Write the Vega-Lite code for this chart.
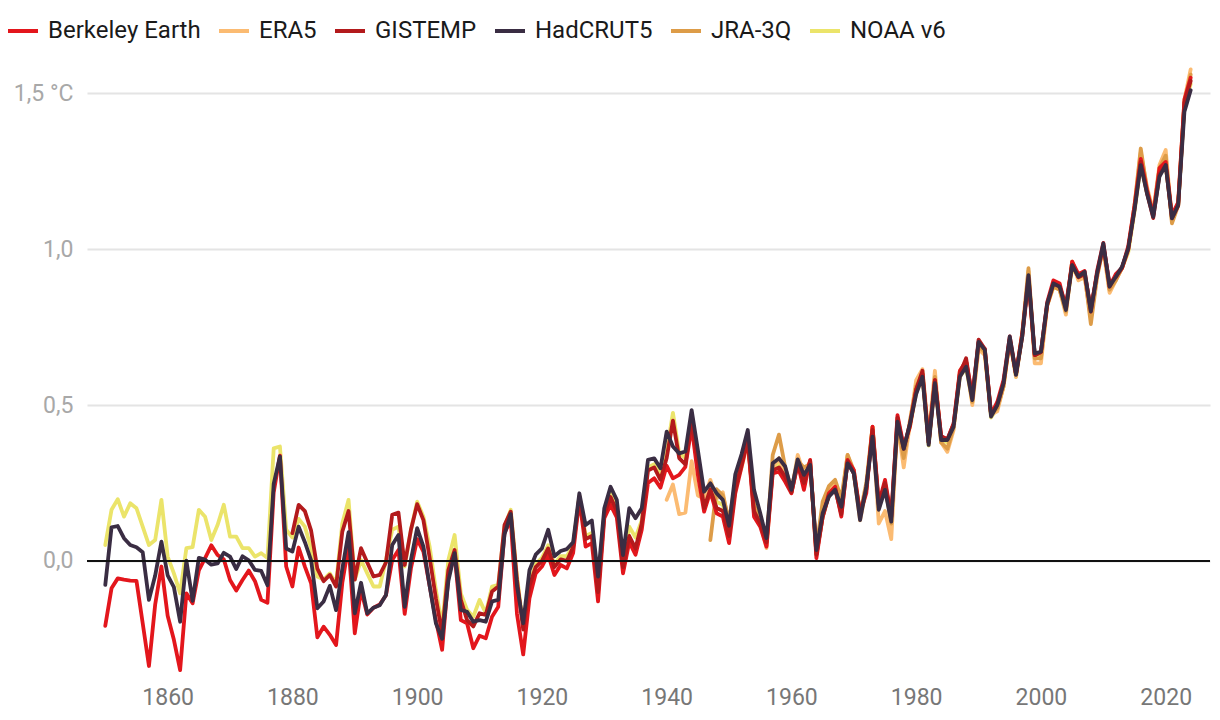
{
"$schema": "https://vega.github.io/schema/vega-lite/v6.json",
"width": 1123, "height": 620,
"autosize": {"type": "none"},
"padding": {"left": 87, "top": 60, "right": 10, "bottom": 40},
"background": "white",
"config": {"view": {"stroke": null}, "font": "Roboto"},
"data": {"values": [
{"dataset":"NOAA v6","year":1850,"value":0.051},{"dataset":"NOAA v6","year":1851,"value":0.164},{"dataset":"NOAA v6","year":1852,"value":0.198},{"dataset":"NOAA v6","year":1853,"value":0.142},{"dataset":"NOAA v6","year":1854,"value":0.185},{"dataset":"NOAA v6","year":1855,"value":0.169},{"dataset":"NOAA v6","year":1856,"value":0.110},{"dataset":"NOAA v6","year":1857,"value":0.051},{"dataset":"NOAA v6","year":1858,"value":0.067},{"dataset":"NOAA v6","year":1859,"value":0.196},
{"dataset":"NOAA v6","year":1860,"value":0.014},{"dataset":"NOAA v6","year":1861,"value":-0.040},{"dataset":"NOAA v6","year":1862,"value":-0.104},{"dataset":"NOAA v6","year":1863,"value":0.041},{"dataset":"NOAA v6","year":1864,"value":0.044},{"dataset":"NOAA v6","year":1865,"value":0.164},{"dataset":"NOAA v6","year":1866,"value":0.142},{"dataset":"NOAA v6","year":1867,"value":0.067},{"dataset":"NOAA v6","year":1868,"value":0.115},{"dataset":"NOAA v6","year":1869,"value":0.180},
{"dataset":"NOAA v6","year":1870,"value":0.078},{"dataset":"NOAA v6","year":1871,"value":0.078},{"dataset":"NOAA v6","year":1872,"value":0.041},{"dataset":"NOAA v6","year":1873,"value":0.041},{"dataset":"NOAA v6","year":1874,"value":0.014},{"dataset":"NOAA v6","year":1875,"value":0.025},{"dataset":"NOAA v6","year":1876,"value":0.009},{"dataset":"NOAA v6","year":1877,"value":0.361},{"dataset":"NOAA v6","year":1878,"value":0.367},{"dataset":"NOAA v6","year":1879,"value":0.100},
{"dataset":"NOAA v6","year":1880,"value":0.075},{"dataset":"NOAA v6","year":1881,"value":0.135},{"dataset":"NOAA v6","year":1882,"value":0.110},{"dataset":"NOAA v6","year":1883,"value":0.040},{"dataset":"NOAA v6","year":1884,"value":-0.050},{"dataset":"NOAA v6","year":1885,"value":-0.060},{"dataset":"NOAA v6","year":1886,"value":-0.040},{"dataset":"NOAA v6","year":1887,"value":-0.072},{"dataset":"NOAA v6","year":1888,"value":0.120},{"dataset":"NOAA v6","year":1889,"value":0.196},
{"dataset":"NOAA v6","year":1890,"value":-0.060},{"dataset":"NOAA v6","year":1891,"value":0.003},{"dataset":"NOAA v6","year":1892,"value":-0.040},{"dataset":"NOAA v6","year":1893,"value":-0.082},{"dataset":"NOAA v6","year":1894,"value":-0.082},{"dataset":"NOAA v6","year":1895,"value":0.003},{"dataset":"NOAA v6","year":1896,"value":0.100},{"dataset":"NOAA v6","year":1897,"value":0.110},{"dataset":"NOAA v6","year":1898,"value":-0.018},{"dataset":"NOAA v6","year":1899,"value":0.100},
{"dataset":"NOAA v6","year":1900,"value":0.190},{"dataset":"NOAA v6","year":1901,"value":0.142},{"dataset":"NOAA v6","year":1902,"value":0.046},{"dataset":"NOAA v6","year":1903,"value":-0.093},{"dataset":"NOAA v6","year":1904,"value":-0.210},{"dataset":"NOAA v6","year":1905,"value":0.003},{"dataset":"NOAA v6","year":1906,"value":0.083},{"dataset":"NOAA v6","year":1907,"value":-0.104},{"dataset":"NOAA v6","year":1908,"value":-0.157},{"dataset":"NOAA v6","year":1909,"value":-0.179},
{"dataset":"NOAA v6","year":1910,"value":-0.125},{"dataset":"NOAA v6","year":1911,"value":-0.168},{"dataset":"NOAA v6","year":1912,"value":-0.082},{"dataset":"NOAA v6","year":1913,"value":-0.077},{"dataset":"NOAA v6","year":1914,"value":0.110},{"dataset":"NOAA v6","year":1915,"value":0.164},{"dataset":"NOAA v6","year":1916,"value":-0.050},{"dataset":"NOAA v6","year":1917,"value":-0.210},{"dataset":"NOAA v6","year":1918,"value":-0.070},{"dataset":"NOAA v6","year":1919,"value":-0.010},
{"dataset":"NOAA v6","year":1920,"value":0.010},{"dataset":"NOAA v6","year":1921,"value":0.050},{"dataset":"NOAA v6","year":1922,"value":-0.010},{"dataset":"NOAA v6","year":1923,"value":0.015},{"dataset":"NOAA v6","year":1924,"value":0.015},{"dataset":"NOAA v6","year":1925,"value":0.050},{"dataset":"NOAA v6","year":1926,"value":0.210},{"dataset":"NOAA v6","year":1927,"value":0.080},{"dataset":"NOAA v6","year":1928,"value":0.090},{"dataset":"NOAA v6","year":1929,"value":-0.080},
{"dataset":"NOAA v6","year":1930,"value":0.155},{"dataset":"NOAA v6","year":1931,"value":0.215},{"dataset":"NOAA v6","year":1932,"value":0.175},{"dataset":"NOAA v6","year":1933,"value":-0.005},{"dataset":"NOAA v6","year":1934,"value":0.110},{"dataset":"NOAA v6","year":1935,"value":0.075},{"dataset":"NOAA v6","year":1936,"value":0.130},{"dataset":"NOAA v6","year":1937,"value":0.300},{"dataset":"NOAA v6","year":1938,"value":0.310},{"dataset":"NOAA v6","year":1939,"value":0.280},
{"dataset":"NOAA v6","year":1940,"value":0.350},{"dataset":"NOAA v6","year":1941,"value":0.475},{"dataset":"NOAA v6","year":1942,"value":0.345},{"dataset":"NOAA v6","year":1943,"value":0.330},{"dataset":"NOAA v6","year":1944,"value":0.470},{"dataset":"NOAA v6","year":1945,"value":0.340},{"dataset":"NOAA v6","year":1946,"value":0.180},{"dataset":"NOAA v6","year":1947,"value":0.240},{"dataset":"NOAA v6","year":1948,"value":0.190},{"dataset":"NOAA v6","year":1949,"value":0.180},
{"dataset":"NOAA v6","year":1950,"value":0.090},{"dataset":"NOAA v6","year":1951,"value":0.250},{"dataset":"NOAA v6","year":1952,"value":0.320},{"dataset":"NOAA v6","year":1953,"value":0.400},{"dataset":"NOAA v6","year":1954,"value":0.180},{"dataset":"NOAA v6","year":1955,"value":0.130},{"dataset":"NOAA v6","year":1956,"value":0.060},{"dataset":"NOAA v6","year":1957,"value":0.300},{"dataset":"NOAA v6","year":1958,"value":0.310},{"dataset":"NOAA v6","year":1959,"value":0.280},
{"dataset":"NOAA v6","year":1960,"value":0.220},{"dataset":"NOAA v6","year":1961,"value":0.320},{"dataset":"NOAA v6","year":1962,"value":0.260},{"dataset":"NOAA v6","year":1963,"value":0.310},{"dataset":"NOAA v6","year":1964,"value":0.020},{"dataset":"NOAA v6","year":1965,"value":0.140},{"dataset":"NOAA v6","year":1966,"value":0.210},{"dataset":"NOAA v6","year":1967,"value":0.230},{"dataset":"NOAA v6","year":1968,"value":0.160},{"dataset":"NOAA v6","year":1969,"value":0.330},
{"dataset":"NOAA v6","year":1970,"value":0.280},{"dataset":"NOAA v6","year":1971,"value":0.140},{"dataset":"NOAA v6","year":1972,"value":0.230},{"dataset":"NOAA v6","year":1973,"value":0.430},{"dataset":"NOAA v6","year":1974,"value":0.170},{"dataset":"NOAA v6","year":1975,"value":0.240},{"dataset":"NOAA v6","year":1976,"value":0.130},{"dataset":"NOAA v6","year":1977,"value":0.450},{"dataset":"NOAA v6","year":1978,"value":0.360},{"dataset":"NOAA v6","year":1979,"value":0.430},
{"dataset":"NOAA v6","year":1980,"value":0.540},{"dataset":"NOAA v6","year":1981,"value":0.590},{"dataset":"NOAA v6","year":1982,"value":0.370},{"dataset":"NOAA v6","year":1983,"value":0.570},{"dataset":"NOAA v6","year":1984,"value":0.390},{"dataset":"NOAA v6","year":1985,"value":0.380},{"dataset":"NOAA v6","year":1986,"value":0.430},{"dataset":"NOAA v6","year":1987,"value":0.590},{"dataset":"NOAA v6","year":1988,"value":0.620},{"dataset":"NOAA v6","year":1989,"value":0.510},
{"dataset":"NOAA v6","year":1990,"value":0.700},{"dataset":"NOAA v6","year":1991,"value":0.670},{"dataset":"NOAA v6","year":1992,"value":0.460},{"dataset":"NOAA v6","year":1993,"value":0.490},{"dataset":"NOAA v6","year":1994,"value":0.560},{"dataset":"NOAA v6","year":1995,"value":0.710},{"dataset":"NOAA v6","year":1996,"value":0.590},{"dataset":"NOAA v6","year":1997,"value":0.730},{"dataset":"NOAA v6","year":1998,"value":0.910},{"dataset":"NOAA v6","year":1999,"value":0.660},
{"dataset":"NOAA v6","year":2000,"value":0.660},{"dataset":"NOAA v6","year":2001,"value":0.820},{"dataset":"NOAA v6","year":2002,"value":0.880},{"dataset":"NOAA v6","year":2003,"value":0.870},{"dataset":"NOAA v6","year":2004,"value":0.810},{"dataset":"NOAA v6","year":2005,"value":0.940},{"dataset":"NOAA v6","year":2006,"value":0.910},{"dataset":"NOAA v6","year":2007,"value":0.920},{"dataset":"NOAA v6","year":2008,"value":0.800},{"dataset":"NOAA v6","year":2009,"value":0.920},
{"dataset":"NOAA v6","year":2010,"value":1.010},{"dataset":"NOAA v6","year":2011,"value":0.870},{"dataset":"NOAA v6","year":2012,"value":0.910},{"dataset":"NOAA v6","year":2013,"value":0.940},{"dataset":"NOAA v6","year":2014,"value":0.990},{"dataset":"NOAA v6","year":2015,"value":1.120},{"dataset":"NOAA v6","year":2016,"value":1.270},{"dataset":"NOAA v6","year":2017,"value":1.180},{"dataset":"NOAA v6","year":2018,"value":1.110},{"dataset":"NOAA v6","year":2019,"value":1.240},
{"dataset":"NOAA v6","year":2020,"value":1.270},{"dataset":"NOAA v6","year":2021,"value":1.100},{"dataset":"NOAA v6","year":2022,"value":1.140},{"dataset":"NOAA v6","year":2023,"value":1.460},{"dataset":"NOAA v6","year":2024,"value":1.530},
{"dataset":"ERA5","year":1940,"value":0.196},{"dataset":"ERA5","year":1941,"value":0.245},{"dataset":"ERA5","year":1942,"value":0.150},{"dataset":"ERA5","year":1943,"value":0.155},{"dataset":"ERA5","year":1944,"value":0.320},{"dataset":"ERA5","year":1945,"value":0.210},{"dataset":"ERA5","year":1946,"value":0.200},{"dataset":"ERA5","year":1947,"value":0.260},{"dataset":"ERA5","year":1948,"value":0.200},{"dataset":"ERA5","year":1949,"value":0.220},
{"dataset":"ERA5","year":1950,"value":0.110},{"dataset":"ERA5","year":1951,"value":0.240},{"dataset":"ERA5","year":1952,"value":0.300},{"dataset":"ERA5","year":1953,"value":0.380},{"dataset":"ERA5","year":1954,"value":0.170},{"dataset":"ERA5","year":1955,"value":0.121},{"dataset":"ERA5","year":1956,"value":0.041},{"dataset":"ERA5","year":1957,"value":0.300},{"dataset":"ERA5","year":1958,"value":0.330},{"dataset":"ERA5","year":1959,"value":0.280},
{"dataset":"ERA5","year":1960,"value":0.220},{"dataset":"ERA5","year":1961,"value":0.340},{"dataset":"ERA5","year":1962,"value":0.280},{"dataset":"ERA5","year":1963,"value":0.320},{"dataset":"ERA5","year":1964,"value":0.030},{"dataset":"ERA5","year":1965,"value":0.170},{"dataset":"ERA5","year":1966,"value":0.220},{"dataset":"ERA5","year":1967,"value":0.250},{"dataset":"ERA5","year":1968,"value":0.180},{"dataset":"ERA5","year":1969,"value":0.340},
{"dataset":"ERA5","year":1970,"value":0.280},{"dataset":"ERA5","year":1971,"value":0.130},{"dataset":"ERA5","year":1972,"value":0.230},{"dataset":"ERA5","year":1973,"value":0.430},{"dataset":"ERA5","year":1974,"value":0.120},{"dataset":"ERA5","year":1975,"value":0.160},{"dataset":"ERA5","year":1976,"value":0.070},{"dataset":"ERA5","year":1977,"value":0.440},{"dataset":"ERA5","year":1978,"value":0.300},{"dataset":"ERA5","year":1979,"value":0.440},
{"dataset":"ERA5","year":1980,"value":0.580},{"dataset":"ERA5","year":1981,"value":0.615},{"dataset":"ERA5","year":1982,"value":0.400},{"dataset":"ERA5","year":1983,"value":0.610},{"dataset":"ERA5","year":1984,"value":0.380},{"dataset":"ERA5","year":1985,"value":0.350},{"dataset":"ERA5","year":1986,"value":0.420},{"dataset":"ERA5","year":1987,"value":0.610},{"dataset":"ERA5","year":1988,"value":0.640},{"dataset":"ERA5","year":1989,"value":0.500},
{"dataset":"ERA5","year":1990,"value":0.680},{"dataset":"ERA5","year":1991,"value":0.660},{"dataset":"ERA5","year":1992,"value":0.470},{"dataset":"ERA5","year":1993,"value":0.480},{"dataset":"ERA5","year":1994,"value":0.560},{"dataset":"ERA5","year":1995,"value":0.710},{"dataset":"ERA5","year":1996,"value":0.590},{"dataset":"ERA5","year":1997,"value":0.720},{"dataset":"ERA5","year":1998,"value":0.930},{"dataset":"ERA5","year":1999,"value":0.634},
{"dataset":"ERA5","year":2000,"value":0.634},{"dataset":"ERA5","year":2001,"value":0.820},{"dataset":"ERA5","year":2002,"value":0.890},{"dataset":"ERA5","year":2003,"value":0.870},{"dataset":"ERA5","year":2004,"value":0.790},{"dataset":"ERA5","year":2005,"value":0.960},{"dataset":"ERA5","year":2006,"value":0.900},{"dataset":"ERA5","year":2007,"value":0.910},{"dataset":"ERA5","year":2008,"value":0.780},{"dataset":"ERA5","year":2009,"value":0.920},
{"dataset":"ERA5","year":2010,"value":1.000},{"dataset":"ERA5","year":2011,"value":0.860},{"dataset":"ERA5","year":2012,"value":0.900},{"dataset":"ERA5","year":2013,"value":0.940},{"dataset":"ERA5","year":2014,"value":1.000},{"dataset":"ERA5","year":2015,"value":1.140},{"dataset":"ERA5","year":2016,"value":1.310},{"dataset":"ERA5","year":2017,"value":1.200},{"dataset":"ERA5","year":2018,"value":1.120},{"dataset":"ERA5","year":2019,"value":1.270},
{"dataset":"ERA5","year":2020,"value":1.318},{"dataset":"ERA5","year":2021,"value":1.090},{"dataset":"ERA5","year":2022,"value":1.150},{"dataset":"ERA5","year":2023,"value":1.480},{"dataset":"ERA5","year":2024,"value":1.577},
{"dataset":"JRA-3Q","year":1947,"value":0.067},{"dataset":"JRA-3Q","year":1948,"value":0.230},{"dataset":"JRA-3Q","year":1949,"value":0.210},
{"dataset":"JRA-3Q","year":1950,"value":0.130},{"dataset":"JRA-3Q","year":1951,"value":0.250},{"dataset":"JRA-3Q","year":1952,"value":0.320},{"dataset":"JRA-3Q","year":1953,"value":0.390},{"dataset":"JRA-3Q","year":1954,"value":0.180},{"dataset":"JRA-3Q","year":1955,"value":0.130},{"dataset":"JRA-3Q","year":1956,"value":0.050},{"dataset":"JRA-3Q","year":1957,"value":0.340},{"dataset":"JRA-3Q","year":1958,"value":0.405},{"dataset":"JRA-3Q","year":1959,"value":0.300},
{"dataset":"JRA-3Q","year":1960,"value":0.230},{"dataset":"JRA-3Q","year":1961,"value":0.320},{"dataset":"JRA-3Q","year":1962,"value":0.300},{"dataset":"JRA-3Q","year":1963,"value":0.310},{"dataset":"JRA-3Q","year":1964,"value":0.040},{"dataset":"JRA-3Q","year":1965,"value":0.190},{"dataset":"JRA-3Q","year":1966,"value":0.240},{"dataset":"JRA-3Q","year":1967,"value":0.260},{"dataset":"JRA-3Q","year":1968,"value":0.200},{"dataset":"JRA-3Q","year":1969,"value":0.340},
{"dataset":"JRA-3Q","year":1970,"value":0.290},{"dataset":"JRA-3Q","year":1971,"value":0.150},{"dataset":"JRA-3Q","year":1972,"value":0.250},{"dataset":"JRA-3Q","year":1973,"value":0.430},{"dataset":"JRA-3Q","year":1974,"value":0.170},{"dataset":"JRA-3Q","year":1975,"value":0.240},{"dataset":"JRA-3Q","year":1976,"value":0.120},{"dataset":"JRA-3Q","year":1977,"value":0.440},{"dataset":"JRA-3Q","year":1978,"value":0.330},{"dataset":"JRA-3Q","year":1979,"value":0.450},
{"dataset":"JRA-3Q","year":1980,"value":0.560},{"dataset":"JRA-3Q","year":1981,"value":0.600},{"dataset":"JRA-3Q","year":1982,"value":0.380},{"dataset":"JRA-3Q","year":1983,"value":0.590},{"dataset":"JRA-3Q","year":1984,"value":0.380},{"dataset":"JRA-3Q","year":1985,"value":0.360},{"dataset":"JRA-3Q","year":1986,"value":0.430},{"dataset":"JRA-3Q","year":1987,"value":0.600},{"dataset":"JRA-3Q","year":1988,"value":0.640},{"dataset":"JRA-3Q","year":1989,"value":0.510},
{"dataset":"JRA-3Q","year":1990,"value":0.690},{"dataset":"JRA-3Q","year":1991,"value":0.670},{"dataset":"JRA-3Q","year":1992,"value":0.470},{"dataset":"JRA-3Q","year":1993,"value":0.490},{"dataset":"JRA-3Q","year":1994,"value":0.560},{"dataset":"JRA-3Q","year":1995,"value":0.710},{"dataset":"JRA-3Q","year":1996,"value":0.600},{"dataset":"JRA-3Q","year":1997,"value":0.730},{"dataset":"JRA-3Q","year":1998,"value":0.939},{"dataset":"JRA-3Q","year":1999,"value":0.650},
{"dataset":"JRA-3Q","year":2000,"value":0.650},{"dataset":"JRA-3Q","year":2001,"value":0.820},{"dataset":"JRA-3Q","year":2002,"value":0.880},{"dataset":"JRA-3Q","year":2003,"value":0.870},{"dataset":"JRA-3Q","year":2004,"value":0.800},{"dataset":"JRA-3Q","year":2005,"value":0.960},{"dataset":"JRA-3Q","year":2006,"value":0.910},{"dataset":"JRA-3Q","year":2007,"value":0.920},{"dataset":"JRA-3Q","year":2008,"value":0.760},{"dataset":"JRA-3Q","year":2009,"value":0.910},
{"dataset":"JRA-3Q","year":2010,"value":1.010},{"dataset":"JRA-3Q","year":2011,"value":0.870},{"dataset":"JRA-3Q","year":2012,"value":0.900},{"dataset":"JRA-3Q","year":2013,"value":0.940},{"dataset":"JRA-3Q","year":2014,"value":1.000},{"dataset":"JRA-3Q","year":2015,"value":1.140},{"dataset":"JRA-3Q","year":2016,"value":1.323},{"dataset":"JRA-3Q","year":2017,"value":1.190},{"dataset":"JRA-3Q","year":2018,"value":1.110},{"dataset":"JRA-3Q","year":2019,"value":1.260},
{"dataset":"JRA-3Q","year":2020,"value":1.300},{"dataset":"JRA-3Q","year":2021,"value":1.083},{"dataset":"JRA-3Q","year":2022,"value":1.140},{"dataset":"JRA-3Q","year":2023,"value":1.470},{"dataset":"JRA-3Q","year":2024,"value":1.560},
{"dataset":"Berkeley Earth","year":1850,"value":-0.208},{"dataset":"Berkeley Earth","year":1851,"value":-0.088},{"dataset":"Berkeley Earth","year":1852,"value":-0.056},{"dataset":"Berkeley Earth","year":1853,"value":-0.060},{"dataset":"Berkeley Earth","year":1854,"value":-0.063},{"dataset":"Berkeley Earth","year":1855,"value":-0.064},{"dataset":"Berkeley Earth","year":1856,"value":-0.200},{"dataset":"Berkeley Earth","year":1857,"value":-0.337},{"dataset":"Berkeley Earth","year":1858,"value":-0.140},{"dataset":"Berkeley Earth","year":1859,"value":-0.018},
{"dataset":"Berkeley Earth","year":1860,"value":-0.176},{"dataset":"Berkeley Earth","year":1861,"value":-0.253},{"dataset":"Berkeley Earth","year":1862,"value":-0.350},{"dataset":"Berkeley Earth","year":1863,"value":-0.104},{"dataset":"Berkeley Earth","year":1864,"value":-0.136},{"dataset":"Berkeley Earth","year":1865,"value":-0.030},{"dataset":"Berkeley Earth","year":1866,"value":0.009},{"dataset":"Berkeley Earth","year":1867,"value":0.050},{"dataset":"Berkeley Earth","year":1868,"value":0.019},{"dataset":"Berkeley Earth","year":1869,"value":0.005},
{"dataset":"Berkeley Earth","year":1870,"value":-0.061},{"dataset":"Berkeley Earth","year":1871,"value":-0.095},{"dataset":"Berkeley Earth","year":1872,"value":-0.061},{"dataset":"Berkeley Earth","year":1873,"value":-0.031},{"dataset":"Berkeley Earth","year":1874,"value":-0.065},{"dataset":"Berkeley Earth","year":1875,"value":-0.125},{"dataset":"Berkeley Earth","year":1876,"value":-0.134},{"dataset":"Berkeley Earth","year":1877,"value":0.220},{"dataset":"Berkeley Earth","year":1878,"value":0.338},{"dataset":"Berkeley Earth","year":1879,"value":-0.018},
{"dataset":"Berkeley Earth","year":1880,"value":-0.082},{"dataset":"Berkeley Earth","year":1881,"value":0.043},{"dataset":"Berkeley Earth","year":1882,"value":-0.018},{"dataset":"Berkeley Earth","year":1883,"value":-0.072},{"dataset":"Berkeley Earth","year":1884,"value":-0.245},{"dataset":"Berkeley Earth","year":1885,"value":-0.211},{"dataset":"Berkeley Earth","year":1886,"value":-0.237},{"dataset":"Berkeley Earth","year":1887,"value":-0.270},{"dataset":"Berkeley Earth","year":1888,"value":-0.070},{"dataset":"Berkeley Earth","year":1889,"value":0.050},
{"dataset":"Berkeley Earth","year":1890,"value":-0.232},{"dataset":"Berkeley Earth","year":1891,"value":-0.093},{"dataset":"Berkeley Earth","year":1892,"value":-0.172},{"dataset":"Berkeley Earth","year":1893,"value":-0.150},{"dataset":"Berkeley Earth","year":1894,"value":-0.140},{"dataset":"Berkeley Earth","year":1895,"value":-0.110},{"dataset":"Berkeley Earth","year":1896,"value":0.003},{"dataset":"Berkeley Earth","year":1897,"value":0.035},{"dataset":"Berkeley Earth","year":1898,"value":-0.170},{"dataset":"Berkeley Earth","year":1899,"value":-0.024},
{"dataset":"Berkeley Earth","year":1900,"value":0.070},{"dataset":"Berkeley Earth","year":1901,"value":0.030},{"dataset":"Berkeley Earth","year":1902,"value":-0.080},{"dataset":"Berkeley Earth","year":1903,"value":-0.190},{"dataset":"Berkeley Earth","year":1904,"value":-0.285},{"dataset":"Berkeley Earth","year":1905,"value":-0.050},{"dataset":"Berkeley Earth","year":1906,"value":0.020},{"dataset":"Berkeley Earth","year":1907,"value":-0.190},{"dataset":"Berkeley Earth","year":1908,"value":-0.200},{"dataset":"Berkeley Earth","year":1909,"value":-0.280},
{"dataset":"Berkeley Earth","year":1910,"value":-0.240},{"dataset":"Berkeley Earth","year":1911,"value":-0.248},{"dataset":"Berkeley Earth","year":1912,"value":-0.179},{"dataset":"Berkeley Earth","year":1913,"value":-0.147},{"dataset":"Berkeley Earth","year":1914,"value":0.090},{"dataset":"Berkeley Earth","year":1915,"value":0.130},{"dataset":"Berkeley Earth","year":1916,"value":-0.170},{"dataset":"Berkeley Earth","year":1917,"value":-0.300},{"dataset":"Berkeley Earth","year":1918,"value":-0.120},{"dataset":"Berkeley Earth","year":1919,"value":-0.040},
{"dataset":"Berkeley Earth","year":1920,"value":-0.018},{"dataset":"Berkeley Earth","year":1921,"value":0.020},{"dataset":"Berkeley Earth","year":1922,"value":-0.045},{"dataset":"Berkeley Earth","year":1923,"value":-0.013},{"dataset":"Berkeley Earth","year":1924,"value":-0.024},{"dataset":"Berkeley Earth","year":1925,"value":0.025},{"dataset":"Berkeley Earth","year":1926,"value":0.196},{"dataset":"Berkeley Earth","year":1927,"value":0.046},{"dataset":"Berkeley Earth","year":1928,"value":0.057},{"dataset":"Berkeley Earth","year":1929,"value":-0.130},
{"dataset":"Berkeley Earth","year":1930,"value":0.137},{"dataset":"Berkeley Earth","year":1931,"value":0.180},{"dataset":"Berkeley Earth","year":1932,"value":0.140},{"dataset":"Berkeley Earth","year":1933,"value":-0.040},{"dataset":"Berkeley Earth","year":1934,"value":0.060},{"dataset":"Berkeley Earth","year":1935,"value":0.020},{"dataset":"Berkeley Earth","year":1936,"value":0.100},{"dataset":"Berkeley Earth","year":1937,"value":0.250},{"dataset":"Berkeley Earth","year":1938,"value":0.265},{"dataset":"Berkeley Earth","year":1939,"value":0.235},
{"dataset":"Berkeley Earth","year":1940,"value":0.305},{"dataset":"Berkeley Earth","year":1941,"value":0.265},{"dataset":"Berkeley Earth","year":1942,"value":0.276},{"dataset":"Berkeley Earth","year":1943,"value":0.302},{"dataset":"Berkeley Earth","year":1944,"value":0.431},{"dataset":"Berkeley Earth","year":1945,"value":0.276},{"dataset":"Berkeley Earth","year":1946,"value":0.158},{"dataset":"Berkeley Earth","year":1947,"value":0.222},{"dataset":"Berkeley Earth","year":1948,"value":0.153},{"dataset":"Berkeley Earth","year":1949,"value":0.142},
{"dataset":"Berkeley Earth","year":1950,"value":0.057},{"dataset":"Berkeley Earth","year":1951,"value":0.217},{"dataset":"Berkeley Earth","year":1952,"value":0.302},{"dataset":"Berkeley Earth","year":1953,"value":0.388},{"dataset":"Berkeley Earth","year":1954,"value":0.142},{"dataset":"Berkeley Earth","year":1955,"value":0.110},{"dataset":"Berkeley Earth","year":1956,"value":0.046},{"dataset":"Berkeley Earth","year":1957,"value":0.281},{"dataset":"Berkeley Earth","year":1958,"value":0.286},{"dataset":"Berkeley Earth","year":1959,"value":0.254},
{"dataset":"Berkeley Earth","year":1960,"value":0.217},{"dataset":"Berkeley Earth","year":1961,"value":0.313},{"dataset":"Berkeley Earth","year":1962,"value":0.228},{"dataset":"Berkeley Earth","year":1963,"value":0.324},{"dataset":"Berkeley Earth","year":1964,"value":0.009},{"dataset":"Berkeley Earth","year":1965,"value":0.142},{"dataset":"Berkeley Earth","year":1966,"value":0.217},{"dataset":"Berkeley Earth","year":1967,"value":0.238},{"dataset":"Berkeley Earth","year":1968,"value":0.142},{"dataset":"Berkeley Earth","year":1969,"value":0.324},
{"dataset":"Berkeley Earth","year":1970,"value":0.292},{"dataset":"Berkeley Earth","year":1971,"value":0.153},{"dataset":"Berkeley Earth","year":1972,"value":0.217},{"dataset":"Berkeley Earth","year":1973,"value":0.431},{"dataset":"Berkeley Earth","year":1974,"value":0.185},{"dataset":"Berkeley Earth","year":1975,"value":0.260},{"dataset":"Berkeley Earth","year":1976,"value":0.142},{"dataset":"Berkeley Earth","year":1977,"value":0.468},{"dataset":"Berkeley Earth","year":1978,"value":0.367},{"dataset":"Berkeley Earth","year":1979,"value":0.431},
{"dataset":"Berkeley Earth","year":1980,"value":0.550},{"dataset":"Berkeley Earth","year":1981,"value":0.600},{"dataset":"Berkeley Earth","year":1982,"value":0.380},{"dataset":"Berkeley Earth","year":1983,"value":0.580},{"dataset":"Berkeley Earth","year":1984,"value":0.400},{"dataset":"Berkeley Earth","year":1985,"value":0.390},{"dataset":"Berkeley Earth","year":1986,"value":0.440},{"dataset":"Berkeley Earth","year":1987,"value":0.610},{"dataset":"Berkeley Earth","year":1988,"value":0.640},{"dataset":"Berkeley Earth","year":1989,"value":0.530},
{"dataset":"Berkeley Earth","year":1990,"value":0.700},{"dataset":"Berkeley Earth","year":1991,"value":0.680},{"dataset":"Berkeley Earth","year":1992,"value":0.470},{"dataset":"Berkeley Earth","year":1993,"value":0.510},{"dataset":"Berkeley Earth","year":1994,"value":0.580},{"dataset":"Berkeley Earth","year":1995,"value":0.720},{"dataset":"Berkeley Earth","year":1996,"value":0.600},{"dataset":"Berkeley Earth","year":1997,"value":0.730},{"dataset":"Berkeley Earth","year":1998,"value":0.910},{"dataset":"Berkeley Earth","year":1999,"value":0.660},
{"dataset":"Berkeley Earth","year":2000,"value":0.670},{"dataset":"Berkeley Earth","year":2001,"value":0.830},{"dataset":"Berkeley Earth","year":2002,"value":0.900},{"dataset":"Berkeley Earth","year":2003,"value":0.890},{"dataset":"Berkeley Earth","year":2004,"value":0.810},{"dataset":"Berkeley Earth","year":2005,"value":0.960},{"dataset":"Berkeley Earth","year":2006,"value":0.920},{"dataset":"Berkeley Earth","year":2007,"value":0.930},{"dataset":"Berkeley Earth","year":2008,"value":0.800},{"dataset":"Berkeley Earth","year":2009,"value":0.930},
{"dataset":"Berkeley Earth","year":2010,"value":1.020},{"dataset":"Berkeley Earth","year":2011,"value":0.880},{"dataset":"Berkeley Earth","year":2012,"value":0.920},{"dataset":"Berkeley Earth","year":2013,"value":0.940},{"dataset":"Berkeley Earth","year":2014,"value":1.010},{"dataset":"Berkeley Earth","year":2015,"value":1.140},{"dataset":"Berkeley Earth","year":2016,"value":1.290},{"dataset":"Berkeley Earth","year":2017,"value":1.190},{"dataset":"Berkeley Earth","year":2018,"value":1.110},{"dataset":"Berkeley Earth","year":2019,"value":1.260},
{"dataset":"Berkeley Earth","year":2020,"value":1.280},{"dataset":"Berkeley Earth","year":2021,"value":1.110},{"dataset":"Berkeley Earth","year":2022,"value":1.150},{"dataset":"Berkeley Earth","year":2023,"value":1.480},{"dataset":"Berkeley Earth","year":2024,"value":1.550},
{"dataset":"GISTEMP","year":1880,"value":0.089},{"dataset":"GISTEMP","year":1881,"value":0.180},{"dataset":"GISTEMP","year":1882,"value":0.160},{"dataset":"GISTEMP","year":1883,"value":0.097},{"dataset":"GISTEMP","year":1884,"value":-0.025},{"dataset":"GISTEMP","year":1885,"value":-0.065},{"dataset":"GISTEMP","year":1886,"value":-0.045},{"dataset":"GISTEMP","year":1887,"value":-0.082},{"dataset":"GISTEMP","year":1888,"value":0.094},{"dataset":"GISTEMP","year":1889,"value":0.160},
{"dataset":"GISTEMP","year":1890,"value":-0.060},{"dataset":"GISTEMP","year":1891,"value":0.041},{"dataset":"GISTEMP","year":1892,"value":-0.005},{"dataset":"GISTEMP","year":1893,"value":-0.050},{"dataset":"GISTEMP","year":1894,"value":-0.045},{"dataset":"GISTEMP","year":1895,"value":-0.005},{"dataset":"GISTEMP","year":1896,"value":0.148},{"dataset":"GISTEMP","year":1897,"value":0.155},{"dataset":"GISTEMP","year":1898,"value":-0.013},{"dataset":"GISTEMP","year":1899,"value":0.100},
{"dataset":"GISTEMP","year":1900,"value":0.182},{"dataset":"GISTEMP","year":1901,"value":0.131},{"dataset":"GISTEMP","year":1902,"value":0.010},{"dataset":"GISTEMP","year":1903,"value":-0.120},{"dataset":"GISTEMP","year":1904,"value":-0.232},{"dataset":"GISTEMP","year":1905,"value":-0.029},{"dataset":"GISTEMP","year":1906,"value":0.035},{"dataset":"GISTEMP","year":1907,"value":-0.125},{"dataset":"GISTEMP","year":1908,"value":-0.190},{"dataset":"GISTEMP","year":1909,"value":-0.210},
{"dataset":"GISTEMP","year":1910,"value":-0.168},{"dataset":"GISTEMP","year":1911,"value":-0.173},{"dataset":"GISTEMP","year":1912,"value":-0.098},{"dataset":"GISTEMP","year":1913,"value":-0.082},{"dataset":"GISTEMP","year":1914,"value":0.115},{"dataset":"GISTEMP","year":1915,"value":0.158},{"dataset":"GISTEMP","year":1916,"value":-0.060},{"dataset":"GISTEMP","year":1917,"value":-0.220},{"dataset":"GISTEMP","year":1918,"value":-0.080},{"dataset":"GISTEMP","year":1919,"value":-0.020},
{"dataset":"GISTEMP","year":1920,"value":0.000},{"dataset":"GISTEMP","year":1921,"value":0.040},{"dataset":"GISTEMP","year":1922,"value":-0.020},{"dataset":"GISTEMP","year":1923,"value":0.005},{"dataset":"GISTEMP","year":1924,"value":0.000},{"dataset":"GISTEMP","year":1925,"value":0.045},{"dataset":"GISTEMP","year":1926,"value":0.205},{"dataset":"GISTEMP","year":1927,"value":0.070},{"dataset":"GISTEMP","year":1928,"value":0.080},{"dataset":"GISTEMP","year":1929,"value":-0.100},
{"dataset":"GISTEMP","year":1930,"value":0.150},{"dataset":"GISTEMP","year":1931,"value":0.205},{"dataset":"GISTEMP","year":1932,"value":0.160},{"dataset":"GISTEMP","year":1933,"value":-0.020},{"dataset":"GISTEMP","year":1934,"value":0.080},{"dataset":"GISTEMP","year":1935,"value":0.040},{"dataset":"GISTEMP","year":1936,"value":0.120},{"dataset":"GISTEMP","year":1937,"value":0.290},{"dataset":"GISTEMP","year":1938,"value":0.300},{"dataset":"GISTEMP","year":1939,"value":0.260},
{"dataset":"GISTEMP","year":1940,"value":0.330},{"dataset":"GISTEMP","year":1941,"value":0.450},{"dataset":"GISTEMP","year":1942,"value":0.330},{"dataset":"GISTEMP","year":1943,"value":0.310},{"dataset":"GISTEMP","year":1944,"value":0.450},{"dataset":"GISTEMP","year":1945,"value":0.320},{"dataset":"GISTEMP","year":1946,"value":0.170},{"dataset":"GISTEMP","year":1947,"value":0.230},{"dataset":"GISTEMP","year":1948,"value":0.170},{"dataset":"GISTEMP","year":1949,"value":0.160},
{"dataset":"GISTEMP","year":1950,"value":0.080},{"dataset":"GISTEMP","year":1951,"value":0.230},{"dataset":"GISTEMP","year":1952,"value":0.310},{"dataset":"GISTEMP","year":1953,"value":0.390},{"dataset":"GISTEMP","year":1954,"value":0.160},{"dataset":"GISTEMP","year":1955,"value":0.120},{"dataset":"GISTEMP","year":1956,"value":0.060},{"dataset":"GISTEMP","year":1957,"value":0.290},{"dataset":"GISTEMP","year":1958,"value":0.300},{"dataset":"GISTEMP","year":1959,"value":0.270},
{"dataset":"GISTEMP","year":1960,"value":0.220},{"dataset":"GISTEMP","year":1961,"value":0.310},{"dataset":"GISTEMP","year":1962,"value":0.250},{"dataset":"GISTEMP","year":1963,"value":0.320},{"dataset":"GISTEMP","year":1964,"value":0.020},{"dataset":"GISTEMP","year":1965,"value":0.140},{"dataset":"GISTEMP","year":1966,"value":0.210},{"dataset":"GISTEMP","year":1967,"value":0.230},{"dataset":"GISTEMP","year":1968,"value":0.150},{"dataset":"GISTEMP","year":1969,"value":0.320},
{"dataset":"GISTEMP","year":1970,"value":0.280},{"dataset":"GISTEMP","year":1971,"value":0.150},{"dataset":"GISTEMP","year":1972,"value":0.230},{"dataset":"GISTEMP","year":1973,"value":0.420},{"dataset":"GISTEMP","year":1974,"value":0.180},{"dataset":"GISTEMP","year":1975,"value":0.250},{"dataset":"GISTEMP","year":1976,"value":0.140},{"dataset":"GISTEMP","year":1977,"value":0.460},{"dataset":"GISTEMP","year":1978,"value":0.360},{"dataset":"GISTEMP","year":1979,"value":0.440},
{"dataset":"GISTEMP","year":1980,"value":0.550},{"dataset":"GISTEMP","year":1981,"value":0.610},{"dataset":"GISTEMP","year":1982,"value":0.380},{"dataset":"GISTEMP","year":1983,"value":0.580},{"dataset":"GISTEMP","year":1984,"value":0.400},{"dataset":"GISTEMP","year":1985,"value":0.390},{"dataset":"GISTEMP","year":1986,"value":0.440},{"dataset":"GISTEMP","year":1987,"value":0.600},{"dataset":"GISTEMP","year":1988,"value":0.650},{"dataset":"GISTEMP","year":1989,"value":0.520},
{"dataset":"GISTEMP","year":1990,"value":0.710},{"dataset":"GISTEMP","year":1991,"value":0.680},{"dataset":"GISTEMP","year":1992,"value":0.470},{"dataset":"GISTEMP","year":1993,"value":0.500},{"dataset":"GISTEMP","year":1994,"value":0.570},{"dataset":"GISTEMP","year":1995,"value":0.710},{"dataset":"GISTEMP","year":1996,"value":0.600},{"dataset":"GISTEMP","year":1997,"value":0.720},{"dataset":"GISTEMP","year":1998,"value":0.900},{"dataset":"GISTEMP","year":1999,"value":0.660},
{"dataset":"GISTEMP","year":2000,"value":0.670},{"dataset":"GISTEMP","year":2001,"value":0.820},{"dataset":"GISTEMP","year":2002,"value":0.890},{"dataset":"GISTEMP","year":2003,"value":0.880},{"dataset":"GISTEMP","year":2004,"value":0.820},{"dataset":"GISTEMP","year":2005,"value":0.950},{"dataset":"GISTEMP","year":2006,"value":0.910},{"dataset":"GISTEMP","year":2007,"value":0.920},{"dataset":"GISTEMP","year":2008,"value":0.810},{"dataset":"GISTEMP","year":2009,"value":0.920},
{"dataset":"GISTEMP","year":2010,"value":1.010},{"dataset":"GISTEMP","year":2011,"value":0.890},{"dataset":"GISTEMP","year":2012,"value":0.910},{"dataset":"GISTEMP","year":2013,"value":0.940},{"dataset":"GISTEMP","year":2014,"value":1.000},{"dataset":"GISTEMP","year":2015,"value":1.130},{"dataset":"GISTEMP","year":2016,"value":1.280},{"dataset":"GISTEMP","year":2017,"value":1.180},{"dataset":"GISTEMP","year":2018,"value":1.100},{"dataset":"GISTEMP","year":2019,"value":1.240},
{"dataset":"GISTEMP","year":2020,"value":1.270},{"dataset":"GISTEMP","year":2021,"value":1.100},{"dataset":"GISTEMP","year":2022,"value":1.140},{"dataset":"GISTEMP","year":2023,"value":1.470},{"dataset":"GISTEMP","year":2024,"value":1.540},
{"dataset":"HadCRUT5","year":1850,"value":-0.077},{"dataset":"HadCRUT5","year":1851,"value":0.108},{"dataset":"HadCRUT5","year":1852,"value":0.112},{"dataset":"HadCRUT5","year":1853,"value":0.073},{"dataset":"HadCRUT5","year":1854,"value":0.051},{"dataset":"HadCRUT5","year":1855,"value":0.044},{"dataset":"HadCRUT5","year":1856,"value":0.028},{"dataset":"HadCRUT5","year":1857,"value":-0.125},{"dataset":"HadCRUT5","year":1858,"value":-0.047},{"dataset":"HadCRUT5","year":1859,"value":0.062},
{"dataset":"HadCRUT5","year":1860,"value":-0.046},{"dataset":"HadCRUT5","year":1861,"value":-0.084},{"dataset":"HadCRUT5","year":1862,"value":-0.195},{"dataset":"HadCRUT5","year":1863,"value":0.001},{"dataset":"HadCRUT5","year":1864,"value":-0.128},{"dataset":"HadCRUT5","year":1865,"value":0.010},{"dataset":"HadCRUT5","year":1866,"value":0.004},{"dataset":"HadCRUT5","year":1867,"value":-0.012},{"dataset":"HadCRUT5","year":1868,"value":-0.008},{"dataset":"HadCRUT5","year":1869,"value":0.026},
{"dataset":"HadCRUT5","year":1870,"value":0.014},{"dataset":"HadCRUT5","year":1871,"value":-0.026},{"dataset":"HadCRUT5","year":1872,"value":0.015},{"dataset":"HadCRUT5","year":1873,"value":0.002},{"dataset":"HadCRUT5","year":1874,"value":-0.029},{"dataset":"HadCRUT5","year":1875,"value":-0.032},{"dataset":"HadCRUT5","year":1876,"value":-0.078},{"dataset":"HadCRUT5","year":1877,"value":0.247},{"dataset":"HadCRUT5","year":1878,"value":0.335},{"dataset":"HadCRUT5","year":1879,"value":0.040},
{"dataset":"HadCRUT5","year":1880,"value":0.030},{"dataset":"HadCRUT5","year":1881,"value":0.110},{"dataset":"HadCRUT5","year":1882,"value":0.060},{"dataset":"HadCRUT5","year":1883,"value":0.002},{"dataset":"HadCRUT5","year":1884,"value":-0.152},{"dataset":"HadCRUT5","year":1885,"value":-0.130},{"dataset":"HadCRUT5","year":1886,"value":-0.080},{"dataset":"HadCRUT5","year":1887,"value":-0.158},{"dataset":"HadCRUT5","year":1888,"value":-0.025},{"dataset":"HadCRUT5","year":1889,"value":0.092},
{"dataset":"HadCRUT5","year":1890,"value":-0.168},{"dataset":"HadCRUT5","year":1891,"value":-0.070},{"dataset":"HadCRUT5","year":1892,"value":-0.168},{"dataset":"HadCRUT5","year":1893,"value":-0.150},{"dataset":"HadCRUT5","year":1894,"value":-0.142},{"dataset":"HadCRUT5","year":1895,"value":-0.109},{"dataset":"HadCRUT5","year":1896,"value":0.051},{"dataset":"HadCRUT5","year":1897,"value":0.083},{"dataset":"HadCRUT5","year":1898,"value":-0.147},{"dataset":"HadCRUT5","year":1899,"value":0.003},
{"dataset":"HadCRUT5","year":1900,"value":0.105},{"dataset":"HadCRUT5","year":1901,"value":0.046},{"dataset":"HadCRUT5","year":1902,"value":-0.080},{"dataset":"HadCRUT5","year":1903,"value":-0.200},{"dataset":"HadCRUT5","year":1904,"value":-0.250},{"dataset":"HadCRUT5","year":1905,"value":-0.065},{"dataset":"HadCRUT5","year":1906,"value":0.025},{"dataset":"HadCRUT5","year":1907,"value":-0.157},{"dataset":"HadCRUT5","year":1908,"value":-0.163},{"dataset":"HadCRUT5","year":1909,"value":-0.195},
{"dataset":"HadCRUT5","year":1910,"value":-0.190},{"dataset":"HadCRUT5","year":1911,"value":-0.195},{"dataset":"HadCRUT5","year":1912,"value":-0.130},{"dataset":"HadCRUT5","year":1913,"value":-0.125},{"dataset":"HadCRUT5","year":1914,"value":0.085},{"dataset":"HadCRUT5","year":1915,"value":0.150},{"dataset":"HadCRUT5","year":1916,"value":-0.080},{"dataset":"HadCRUT5","year":1917,"value":-0.200},{"dataset":"HadCRUT5","year":1918,"value":-0.030},{"dataset":"HadCRUT5","year":1919,"value":0.020},
{"dataset":"HadCRUT5","year":1920,"value":0.040},{"dataset":"HadCRUT5","year":1921,"value":0.100},{"dataset":"HadCRUT5","year":1922,"value":0.015},{"dataset":"HadCRUT5","year":1923,"value":0.032},{"dataset":"HadCRUT5","year":1924,"value":0.038},{"dataset":"HadCRUT5","year":1925,"value":0.060},{"dataset":"HadCRUT5","year":1926,"value":0.217},{"dataset":"HadCRUT5","year":1927,"value":0.115},{"dataset":"HadCRUT5","year":1928,"value":0.130},{"dataset":"HadCRUT5","year":1929,"value":-0.050},
{"dataset":"HadCRUT5","year":1930,"value":0.169},{"dataset":"HadCRUT5","year":1931,"value":0.238},{"dataset":"HadCRUT5","year":1932,"value":0.196},{"dataset":"HadCRUT5","year":1933,"value":0.019},{"dataset":"HadCRUT5","year":1934,"value":0.169},{"dataset":"HadCRUT5","year":1935,"value":0.137},{"dataset":"HadCRUT5","year":1936,"value":0.169},{"dataset":"HadCRUT5","year":1937,"value":0.324},{"dataset":"HadCRUT5","year":1938,"value":0.329},{"dataset":"HadCRUT5","year":1939,"value":0.297},
{"dataset":"HadCRUT5","year":1940,"value":0.415},{"dataset":"HadCRUT5","year":1941,"value":0.367},{"dataset":"HadCRUT5","year":1942,"value":0.345},{"dataset":"HadCRUT5","year":1943,"value":0.351},{"dataset":"HadCRUT5","year":1944,"value":0.484},{"dataset":"HadCRUT5","year":1945,"value":0.356},{"dataset":"HadCRUT5","year":1946,"value":0.222},{"dataset":"HadCRUT5","year":1947,"value":0.249},{"dataset":"HadCRUT5","year":1948,"value":0.217},{"dataset":"HadCRUT5","year":1949,"value":0.196},
{"dataset":"HadCRUT5","year":1950,"value":0.113},{"dataset":"HadCRUT5","year":1951,"value":0.278},{"dataset":"HadCRUT5","year":1952,"value":0.342},{"dataset":"HadCRUT5","year":1953,"value":0.420},{"dataset":"HadCRUT5","year":1954,"value":0.228},{"dataset":"HadCRUT5","year":1955,"value":0.153},{"dataset":"HadCRUT5","year":1956,"value":0.073},{"dataset":"HadCRUT5","year":1957,"value":0.313},{"dataset":"HadCRUT5","year":1958,"value":0.329},{"dataset":"HadCRUT5","year":1959,"value":0.303},
{"dataset":"HadCRUT5","year":1960,"value":0.228},{"dataset":"HadCRUT5","year":1961,"value":0.326},{"dataset":"HadCRUT5","year":1962,"value":0.276},{"dataset":"HadCRUT5","year":1963,"value":0.308},{"dataset":"HadCRUT5","year":1964,"value":0.035},{"dataset":"HadCRUT5","year":1965,"value":0.153},{"dataset":"HadCRUT5","year":1966,"value":0.206},{"dataset":"HadCRUT5","year":1967,"value":0.228},{"dataset":"HadCRUT5","year":1968,"value":0.174},{"dataset":"HadCRUT5","year":1969,"value":0.313},
{"dataset":"HadCRUT5","year":1970,"value":0.281},{"dataset":"HadCRUT5","year":1971,"value":0.131},{"dataset":"HadCRUT5","year":1972,"value":0.238},{"dataset":"HadCRUT5","year":1973,"value":0.399},{"dataset":"HadCRUT5","year":1974,"value":0.164},{"dataset":"HadCRUT5","year":1975,"value":0.228},{"dataset":"HadCRUT5","year":1976,"value":0.126},{"dataset":"HadCRUT5","year":1977,"value":0.447},{"dataset":"HadCRUT5","year":1978,"value":0.360},{"dataset":"HadCRUT5","year":1979,"value":0.440},
{"dataset":"HadCRUT5","year":1980,"value":0.535},{"dataset":"HadCRUT5","year":1981,"value":0.591},{"dataset":"HadCRUT5","year":1982,"value":0.372},{"dataset":"HadCRUT5","year":1983,"value":0.570},{"dataset":"HadCRUT5","year":1984,"value":0.388},{"dataset":"HadCRUT5","year":1985,"value":0.388},{"dataset":"HadCRUT5","year":1986,"value":0.431},{"dataset":"HadCRUT5","year":1987,"value":0.591},{"dataset":"HadCRUT5","year":1988,"value":0.623},{"dataset":"HadCRUT5","year":1989,"value":0.516},
{"dataset":"HadCRUT5","year":1990,"value":0.703},{"dataset":"HadCRUT5","year":1991,"value":0.677},{"dataset":"HadCRUT5","year":1992,"value":0.463},{"dataset":"HadCRUT5","year":1993,"value":0.500},{"dataset":"HadCRUT5","year":1994,"value":0.570},{"dataset":"HadCRUT5","year":1995,"value":0.720},{"dataset":"HadCRUT5","year":1996,"value":0.597},{"dataset":"HadCRUT5","year":1997,"value":0.720},{"dataset":"HadCRUT5","year":1998,"value":0.917},{"dataset":"HadCRUT5","year":1999,"value":0.666},
{"dataset":"HadCRUT5","year":2000,"value":0.671},{"dataset":"HadCRUT5","year":2001,"value":0.826},{"dataset":"HadCRUT5","year":2002,"value":0.890},{"dataset":"HadCRUT5","year":2003,"value":0.880},{"dataset":"HadCRUT5","year":2004,"value":0.805},{"dataset":"HadCRUT5","year":2005,"value":0.949},{"dataset":"HadCRUT5","year":2006,"value":0.912},{"dataset":"HadCRUT5","year":2007,"value":0.928},{"dataset":"HadCRUT5","year":2008,"value":0.800},{"dataset":"HadCRUT5","year":2009,"value":0.923},
{"dataset":"HadCRUT5","year":2010,"value":1.019},{"dataset":"HadCRUT5","year":2011,"value":0.880},{"dataset":"HadCRUT5","year":2012,"value":0.912},{"dataset":"HadCRUT5","year":2013,"value":0.944},{"dataset":"HadCRUT5","year":2014,"value":1.003},{"dataset":"HadCRUT5","year":2015,"value":1.126},{"dataset":"HadCRUT5","year":2016,"value":1.270},{"dataset":"HadCRUT5","year":2017,"value":1.179},{"dataset":"HadCRUT5","year":2018,"value":1.104},{"dataset":"HadCRUT5","year":2019,"value":1.233},
{"dataset":"HadCRUT5","year":2020,"value":1.270},{"dataset":"HadCRUT5","year":2021,"value":1.099},{"dataset":"HadCRUT5","year":2022,"value":1.142},{"dataset":"HadCRUT5","year":2023,"value":1.441},{"dataset":"HadCRUT5","year":2024,"value":1.510}
]},
"layer": [
{"mark": {"type": "line", "strokeWidth": 3.8, "strokeJoin": "round", "strokeCap": "round"},
 "encoding": {
  "x": {"field": "year", "type": "quantitative", "scale": {"domain": [1847.07, 2027.1], "nice": false, "zero": false},
        "axis": {"title": null, "values": [1860, 1880, 1900, 1920, 1940, 1960, 1980, 2000, 2020], "format": "d", "grid": false, "domain": false, "ticks": false, "labelFontSize": 23, "labelColor": "#777777", "labelPadding": 6, "labelOverlap": false, "labelFont": "Roboto"}},
  "y": {"field": "value", "type": "quantitative", "scale": {"domain": [-0.382, 1.607], "nice": false, "zero": false},
        "axis": {"title": null, "values": [0, 0.5, 1, 1.5], "labelExpr": "datum.value == 1.5 ? '1,5 °C' : replace(format(datum.value, '.1f'), '.', ',')", "grid": true, "gridColor": "#e4e4e4", "gridWidth": 2, "domain": false, "ticks": false, "labelFontSize": 23, "labelColor": "#a8a8a8", "labelPadding": 14, "labelFont": "Roboto"}},
  "color": {"field": "dataset", "type": "nominal",
        "scale": {"domain": ["Berkeley Earth", "ERA5", "GISTEMP", "HadCRUT5", "JRA-3Q", "NOAA v6"], "range": ["#e3161c", "#fbbb72", "#b31a1c", "#3a2d43", "#dd9c48", "#ebe46a"]},
        "legend": {"title": null, "orient": "none", "legendX": -81, "legendY": -46, "direction": "horizontal", "symbolType": "stroke", "symbolSize": 900, "symbolStrokeWidth": 4, "labelFontSize": 24, "labelColor": "#1a1a1a", "labelFont": "Roboto", "columnPadding": 10, "labelOffset": 8}}
 }},
{"mark": {"type": "rule", "color": "#111111", "strokeWidth": 2}, "encoding": {"y": {"datum": 0}}}
]
}
